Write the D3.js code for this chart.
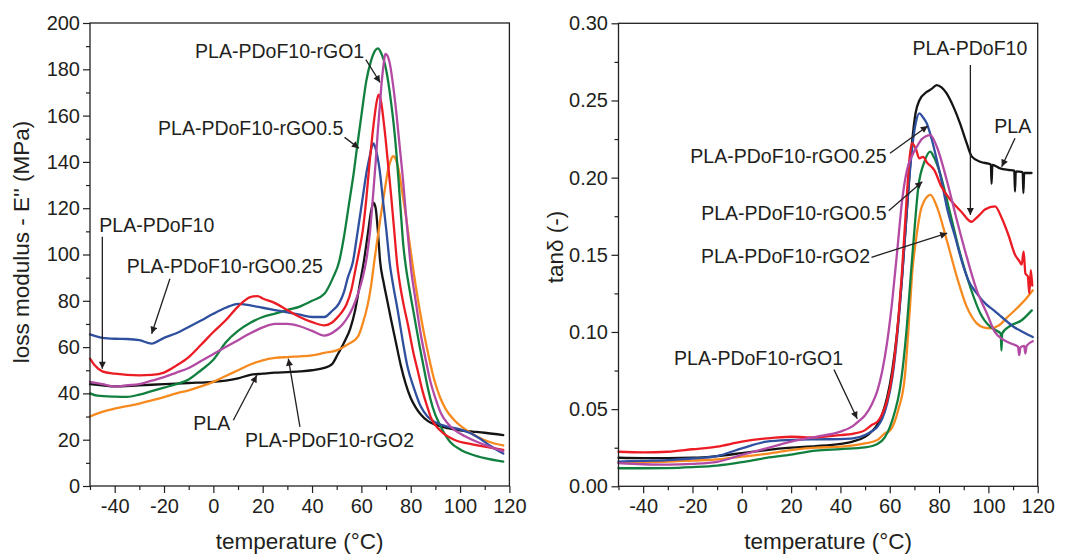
<!DOCTYPE html>
<html><head><meta charset="utf-8">
<script src="https://cdn.jsdelivr.net/npm/d3@7"></script>
<style>
body{margin:0;background:#fff;}
svg{display:block;font-family:"Liberation Sans",Arial,sans-serif;}
</style></head><body>
<svg id="chart" width="1070" height="554"></svg>
<script>
// ---------- categories ----------
const seriesNames = ["PLA","PLA-PDoF10","PLA-PDoF10-rGO0.25","PLA-PDoF10-rGO0.5","PLA-PDoF10-rGO1","PLA-PDoF10-rGO2"];
const seriesColors = ["#141414","#ec1c24","#2f4f9f","#11803f","#b34aa4","#f68a1f"];
const drawOrder = [0,5,3,2,1,4];

// ---------- tick labels ----------
const xTicks = [-40,-20,0,20,40,60,80,100,120];
const xMinorTicks = [-50,-30,-10,10,30,50,70,90,110];
const lossTicks = [0,20,40,60,80,100,120,140,160,180,200];
const lossMinorTicks = [10,30,50,70,90,110,130,150,170,190];
const tanTicks = [0,0.05,0.10,0.15,0.20,0.25,0.30];
const tanMinorTicks = [0.025,0.075,0.125,0.175,0.225,0.275];

// ---------- loss modulus E'' (MPa) : [temperature, value] ----------
const lossPLA = [[-50,44],[-45,43.5],[-40,43],[-30,43.5],[-20,44],[-10,44.5],[0,45],[5,45.5],[10,46.5],[15,48],[20,48.5],[25,49],[30,49.2],[35,49.5],[40,50],[45,51],[48,52.5],[50.5,57],[53,62],[55.5,68],[57.5,76],[59.5,88],[61,97],[62.5,108],[64,119],[64.9,122.4],[65.8,120],[66.7,110],[67.6,97],[69,88],[70.5,80],[72,72],[74,62],[76,52],[78,44],[80,38],[82,34],[84,31],[87,28],[90,26.5],[95,25],[100,24],[105,23.5],[110,23],[117.5,22]];
const lossPDoF = [[-50,55],[-48,52],[-45,49.5],[-40,48.5],[-35,48],[-30,47.8],[-25,48],[-20,49],[-15,52],[-10,55.7],[-5,61],[0,66.5],[5,71.6],[10,77.5],[15,81.6],[18,82],[20,81],[25,79],[30,76],[35,73],[40,70.8],[45,69.4],[48,70.5],[50,72.5],[52,75],[54,78.5],[56,85],[57.5,93],[59,101],[60.6,110.6],[62,124],[63.3,139.4],[64.5,152],[65.5,161],[66.3,166.5],[67,169],[67.8,167],[69.3,155],[71,137],[72.1,125],[73.5,108],[74.5,96],[75.5,88],[77,79],[79,69],[81,58],[82.8,50],[84.8,41],[86.8,34],[88.2,29.5],[92,24],[97.6,20],[105,18],[110,17],[117.5,15.6]];
const lossR025 = [[-50,65.5],[-45,64],[-40,63.6],[-35,63.5],[-30,63],[-25,61.5],[-20,64],[-15,66],[-10,68.7],[-5,71.5],[0,74.4],[5,77],[10,78.7],[15,78],[20,77],[25,76],[30,75],[35,74],[40,73],[45,73],[48,75.5],[51,79],[53,84],[54.5,90],[56.6,97],[58.5,110],[60.6,125],[62,135],[63.3,142],[64.2,146.5],[64.9,148],[65.7,146],[67.4,136.5],[68.8,123],[70.1,110.6],[71.5,96.2],[73,86],[74.7,76],[76.7,63],[78.7,51.5],[81.4,42],[84.1,34.3],[86.8,30],[90,27.5],[94.9,25.6],[100,24.5],[104.3,22.8],[108,20.5],[112,17.5],[117.5,14]];
const lossR05 = [[-50,40],[-47,39],[-40,38.6],[-35,38.5],[-30,39.5],[-25,41],[-20,42.5],[-15,44],[-10,46],[-5,50],[0,54.5],[5,62],[10,67],[15,70.5],[20,73],[25,74.5],[30,76],[35,77.5],[40,80],[45,83],[48.5,90],[51,97],[53,108],[55,122],[57,136],[58.2,146],[60,160],[62,175],[64,184],[65.5,188],[66.7,189],[68,187],[70,180],[72,166],[73.5,152],[75,133],[76,118],[77,104],[78,95],[79.5,85],[81.5,73],[83.5,61],[85.5,50],[87,42],[88.9,34],[92.2,25.6],[96,19],[100.3,15.6],[105,13.5],[110,12],[117.5,10.5]];
const lossR1 = [[-50,45],[-45,44],[-40,43],[-35,43.5],[-30,44],[-25,45.5],[-20,47],[-15,49],[-10,51],[-5,54],[0,57],[5,60],[10,63],[15,66],[20,68.5],[25,70],[30,70],[35,69],[40,67],[45,65],[47,65.5],[50,67.5],[52.5,70],[54.5,73],[56.5,77],[58.6,83],[60.5,90],[62,97.6],[63.5,110],[64.7,125],[65.8,140],[66.7,153.8],[67.4,163],[68.2,174],[69,182],[69.7,186.6],[70.5,186],[71.5,182.6],[73,172],[74.2,161],[75.5,147],[76.9,132],[78,118],[78.9,107.7],[79.9,96],[82,80],[84,66],[86,55],[88,45],[90,38],[92,32],[95,27],[98,24],[102,21.5],[107,19],[112,17],[117.5,15]];
const lossR2 = [[-50,30],[-45,32],[-40,33.4],[-35,34.5],[-30,35.6],[-25,37],[-20,38.4],[-15,40],[-10,41.3],[-5,43],[0,45],[5,47.5],[10,50],[15,52.5],[20,54.3],[25,55.3],[30,55.7],[35,56],[40,56.4],[45,57.5],[50,58.6],[55,61.5],[58.6,64.5],[60.5,70],[62.7,79],[64,87],[65.3,97.6],[66.7,108],[68,117.8],[69.5,128],[70.8,136.5],[72,141],[72.9,142.5],[74,141],[75.4,135],[76.7,126],[78.1,116.3],[79.4,106],[80.7,96],[83,80],[85,68],[87.5,55],[89.5,46],[92,38],[94.3,33],[97.6,28.5],[102,24.5],[107,21.3],[112,19],[117.5,17.5]];

// ---------- tan delta (-) : [temperature, value] ----------
const tanPLA = [[-50,0.0185],[-40,0.0183],[-30,0.0183],[-20,0.0185],[-10,0.0196],[0,0.0215],[10,0.0235],[20,0.025],[30,0.026],[40,0.0275],[45,0.029],[50,0.032],[53,0.036],[55,0.04],[57,0.047],[59,0.058],[61,0.075],[63,0.1],[65,0.136],[67,0.18],[69,0.222],[70.5,0.242],[72,0.25],[75,0.2555],[77,0.2575],[79,0.26],[81,0.2585],[83,0.2547],[85.8,0.246],[88.5,0.2352],[91.2,0.2223],[93.3,0.2136],[96.7,0.2103],[101,0.2085],[101.3,0.196],[101.6,0.2083],[104.8,0.206],[108,0.205],[110.5,0.2045],[110.8,0.191],[111.1,0.204],[113.9,0.2035],[114.2,0.19],[114.5,0.203],[117.5,0.203]];
const tanPDoF = [[-50,0.0224],[-40,0.022],[-30,0.0224],[-20,0.024],[-10,0.0257],[0,0.0289],[10,0.031],[20,0.0321],[30,0.0317],[40,0.0332],[45,0.034],[50,0.0364],[53,0.04],[55,0.0418],[57,0.047],[59,0.056],[61,0.072],[63,0.1],[65,0.14],[67,0.19],[68,0.212],[69,0.2223],[70.5,0.219],[72,0.2125],[73.5,0.2135],[75,0.21],[78,0.205],[81,0.194],[85.1,0.1847],[89.2,0.1776],[93.2,0.1714],[94.5,0.173],[96.5,0.176],[98.6,0.1793],[102.7,0.1814],[105.4,0.1739],[108.1,0.163],[110.8,0.1501],[112.5,0.146],[113.5,0.1436],[114.3,0.152],[115,0.138],[116,0.136],[116.6,0.125],[117.2,0.14],[117.8,0.13]];
const tanR025 = [[-50,0.016],[-40,0.0165],[-30,0.017],[-20,0.018],[-10,0.0196],[0,0.0246],[10,0.0289],[20,0.03],[30,0.0304],[40,0.0306],[45,0.031],[50,0.0332],[53,0.036],[55,0.0386],[57,0.044],[59,0.054],[61,0.07],[63,0.097],[65,0.135],[67,0.18],[69,0.218],[70.5,0.235],[72,0.2417],[73.5,0.239],[75,0.2352],[77,0.225],[79.1,0.2114],[81,0.198],[83.1,0.1812],[86.5,0.1617],[89.9,0.1423],[92,0.133],[95.3,0.125],[99,0.118],[102.1,0.1142],[105.4,0.1097],[110.2,0.1034],[114,0.1],[118,0.0967]];
const tanR05 = [[-50,0.0117],[-40,0.0117],[-30,0.0118],[-20,0.0124],[-10,0.0134],[0,0.0156],[10,0.0184],[20,0.0205],[30,0.0231],[40,0.0241],[50,0.0252],[55,0.0274],[58,0.0317],[60,0.0382],[62,0.048],[64,0.062],[65.5,0.08],[67,0.105],[68.5,0.136],[69.8,0.162],[71.6,0.194],[74,0.21],[76.4,0.2168],[78,0.213],[80.4,0.2028],[84.5,0.1769],[88.5,0.151],[92.6,0.1293],[96.7,0.1121],[100.7,0.1034],[103,0.1011],[105,0.099],[105.3,0.088],[105.6,0.099],[108.1,0.1032],[113.5,0.1076],[117.6,0.114]];
const tanR1 = [[-50,0.015],[-40,0.0143],[-30,0.014],[-20,0.0145],[-10,0.0159],[0,0.0203],[10,0.0246],[20,0.0289],[30,0.0321],[40,0.0354],[45,0.039],[48,0.043],[50,0.046],[53,0.054],[55,0.062],[57,0.075],[59,0.094],[61,0.12],[63,0.152],[65,0.185],[67,0.205],[69,0.214],[71,0.22],[73,0.225],[76.5,0.2276],[79.1,0.22],[83.1,0.1985],[87.2,0.1726],[91.2,0.1488],[95.3,0.127],[99.4,0.112],[102.6,0.1],[106,0.095],[110,0.092],[112,0.0905],[112.5,0.085],[113,0.09],[114.5,0.091],[115,0.086],[115.5,0.091],[118,0.094]];
const tanR2 = [[-50,0.0153],[-40,0.0157],[-30,0.016],[-20,0.0167],[-10,0.0174],[0,0.0192],[10,0.021],[20,0.0235],[30,0.025],[40,0.0257],[50,0.0278],[55,0.03],[58,0.0343],[60,0.036],[62,0.042],[63.4,0.0493],[66.1,0.0708],[68.1,0.114],[69.2,0.14],[70.5,0.158],[73,0.1812],[76.5,0.1888],[79.1,0.1812],[83.1,0.1596],[87.2,0.1358],[91.2,0.1164],[95.3,0.1056],[98,0.103],[101,0.1024],[104,0.104],[108,0.11],[112,0.116],[115,0.121],[118,0.127]];

const lossSeries = [lossPLA,lossPDoF,lossR025,lossR05,lossR1,lossR2];
const tanSeries = [tanPLA,tanPDoF,tanR025,tanR05,tanR1,tanR2];

// ---------- annotations (anchored in data coordinates) ----------
const lossNotes = [
  {label:"PLA-PDoF10-rGO1", at:[-7.4,184.9], anchor:"start", from:[61.8,184.2], to:[67.6,174.3]},
  {label:"PLA-PDoF10-rGO0.5", at:[52.7,151.6], anchor:"end", from:[53.2,150.6], to:[59,145.9]},
  {label:"PLA-PDoF10", at:[-46.2,109.8], anchor:"start", from:[-45,107.7], to:[-45,50.7]},
  {label:"PLA-PDoF10-rGO0.25", at:[-35.1,91.9], anchor:"start", from:[-17.6,89.5], to:[-25,65.8]},
  {label:"PLA", at:[-8.1,24.1], anchor:"start", from:[8.1,28.4], to:[17.6,47.8]},
  {label:"PLA-PDoF10-rGO2", at:[12.8,16.8], anchor:"start", from:[35.1,25.5], to:[30.4,55]}
];
const tanNotes = [
  {label:"PLA-PDoF10", at:[69.2,0.2795], anchor:"start", from:[92.7,0.273], to:[92.7,0.1758]},
  {label:"PLA", at:[102.4,0.2287], anchor:"start", from:[110.8,0.2255], to:[105.4,0.2071]},
  {label:"PLA-PDoF10-rGO0.25", at:[58.7,0.2093], anchor:"end", from:[60.1,0.2158], to:[75.4,0.2335]},
  {label:"PLA-PDoF10-rGO0.5", at:[58.7,0.1726], anchor:"end", from:[59.6,0.1786], to:[73.2,0.1974]},
  {label:"PLA-PDoF10-rGO2", at:[52,0.1445], anchor:"end", from:[52.6,0.1484], to:[83.3,0.164]},
  {label:"PLA-PDoF10-rGO1", at:[41.1,0.0784], anchor:"end", from:[37.4,0.0756], to:[46.8,0.0438]}
];

// ---------- drawing ----------
const svg = d3.select("#chart");
const ink = "#231f20";
svg.append("defs").append("marker")
  .attr("id","arrow").attr("viewBox","0 0 10 10").attr("refX",10).attr("refY",5)
  .attr("markerWidth",9).attr("markerHeight",7).attr("markerUnits","userSpaceOnUse")
  .attr("orient","auto")
  .append("path").attr("d","M0,0L10,5L0,10Z").attr("fill",ink);

const hyphen = f => (d => f(d).replace("\u2212","-"));

const panels = [
  {left:90, right:509.4, top:23, bottom:486, yDomain:[0,200], yTicks:lossTicks, yMinor:lossMinorTicks,
   yFmt:hyphen(d3.format("d")), yTitle:"loss modulus - E'' (MPa)", yTitleX:29, yTitleY:242, yPad:3,
   series:lossSeries, notes:lossNotes},
  {left:618.5, right:1037.7, top:23.3, bottom:486.3, yDomain:[0,0.30], yTicks:tanTicks, yMinor:tanMinorTicks,
   yFmt:hyphen(d3.format(".2f")), yTitle:"tanδ (-)", yTitleX:563, yTitleY:247, yPad:3.5,
   series:tanSeries, notes:tanNotes}
];

panels.forEach(p => {
  const x = d3.scaleLinear().domain([-50,120]).range([p.left,p.right]);
  const y = d3.scaleLinear().domain(p.yDomain).range([p.bottom,p.top]);
  const g = svg.append("g");

  // curves
  const line = d3.line().x(d=>x(d[0])).y(d=>y(d[1])).curve(d3.curveMonotoneX);
  drawOrder.forEach(i => {
    g.append("path").datum(p.series[i]).attr("d",line)
     .attr("fill","none").attr("stroke",seriesColors[i]).attr("stroke-width",2.3)
     .attr("stroke-linejoin","round").attr("stroke-linecap","round");
  });

  // axes
  const xa = g.append("g").attr("transform",`translate(0,${p.bottom})`)
    .call(d3.axisBottom(x).tickValues(xTicks).tickSize(7).tickPadding(6).tickFormat(hyphen(d3.format("d"))));
  const xm = g.append("g").attr("transform",`translate(0,${p.bottom})`)
    .call(d3.axisBottom(x).tickValues(xMinorTicks).tickSize(4).tickFormat(""));
  const ya = g.append("g").attr("transform",`translate(${p.left},0)`)
    .call(d3.axisLeft(y).tickValues(p.yTicks).tickSize(7).tickPadding(p.yPad).tickFormat(p.yFmt));
  const ym = g.append("g").attr("transform",`translate(${p.left},0)`)
    .call(d3.axisLeft(y).tickValues(p.yMinor).tickSize(4).tickFormat(""));
  [xa,xm,ya,ym].forEach(a => {
    a.select(".domain").remove();
    a.selectAll("line").attr("stroke",ink).attr("stroke-width",1.2);
    a.selectAll("text").attr("fill",ink).style("font-size","20px")
      .style("font-family","'Liberation Sans',Arial,sans-serif");
  });

  // frame
  g.append("rect").attr("x",p.left).attr("y",p.top)
   .attr("width",p.right-p.left).attr("height",p.bottom-p.top)
   .attr("fill","none").attr("stroke",ink).attr("stroke-width",1.3);

  // titles
  g.append("text").attr("x",(p.left+p.right)/2).attr("y",549)
   .attr("text-anchor","middle").attr("fill",ink).style("font-size","22.5px")
   .text("temperature (°C)");
  g.append("text").attr("transform",`translate(${p.yTitleX},${p.yTitleY}) rotate(-90)`)
   .attr("text-anchor","middle").attr("fill",ink).style("font-size","22.5px")
   .text(p.yTitle);

  // annotations
  p.notes.forEach(n => {
    g.append("line").attr("x1",x(n.from[0])).attr("y1",y(n.from[1]))
     .attr("x2",x(n.to[0])).attr("y2",y(n.to[1]))
     .attr("stroke",ink).attr("stroke-width",1.3).attr("marker-end","url(#arrow)");
    g.append("text").attr("x",x(n.at[0])).attr("y",y(n.at[1]))
     .attr("text-anchor",n.anchor).attr("fill",ink).style("font-size","19.5px")
     .text(n.label);
  });
});
</script>
</body></html>
